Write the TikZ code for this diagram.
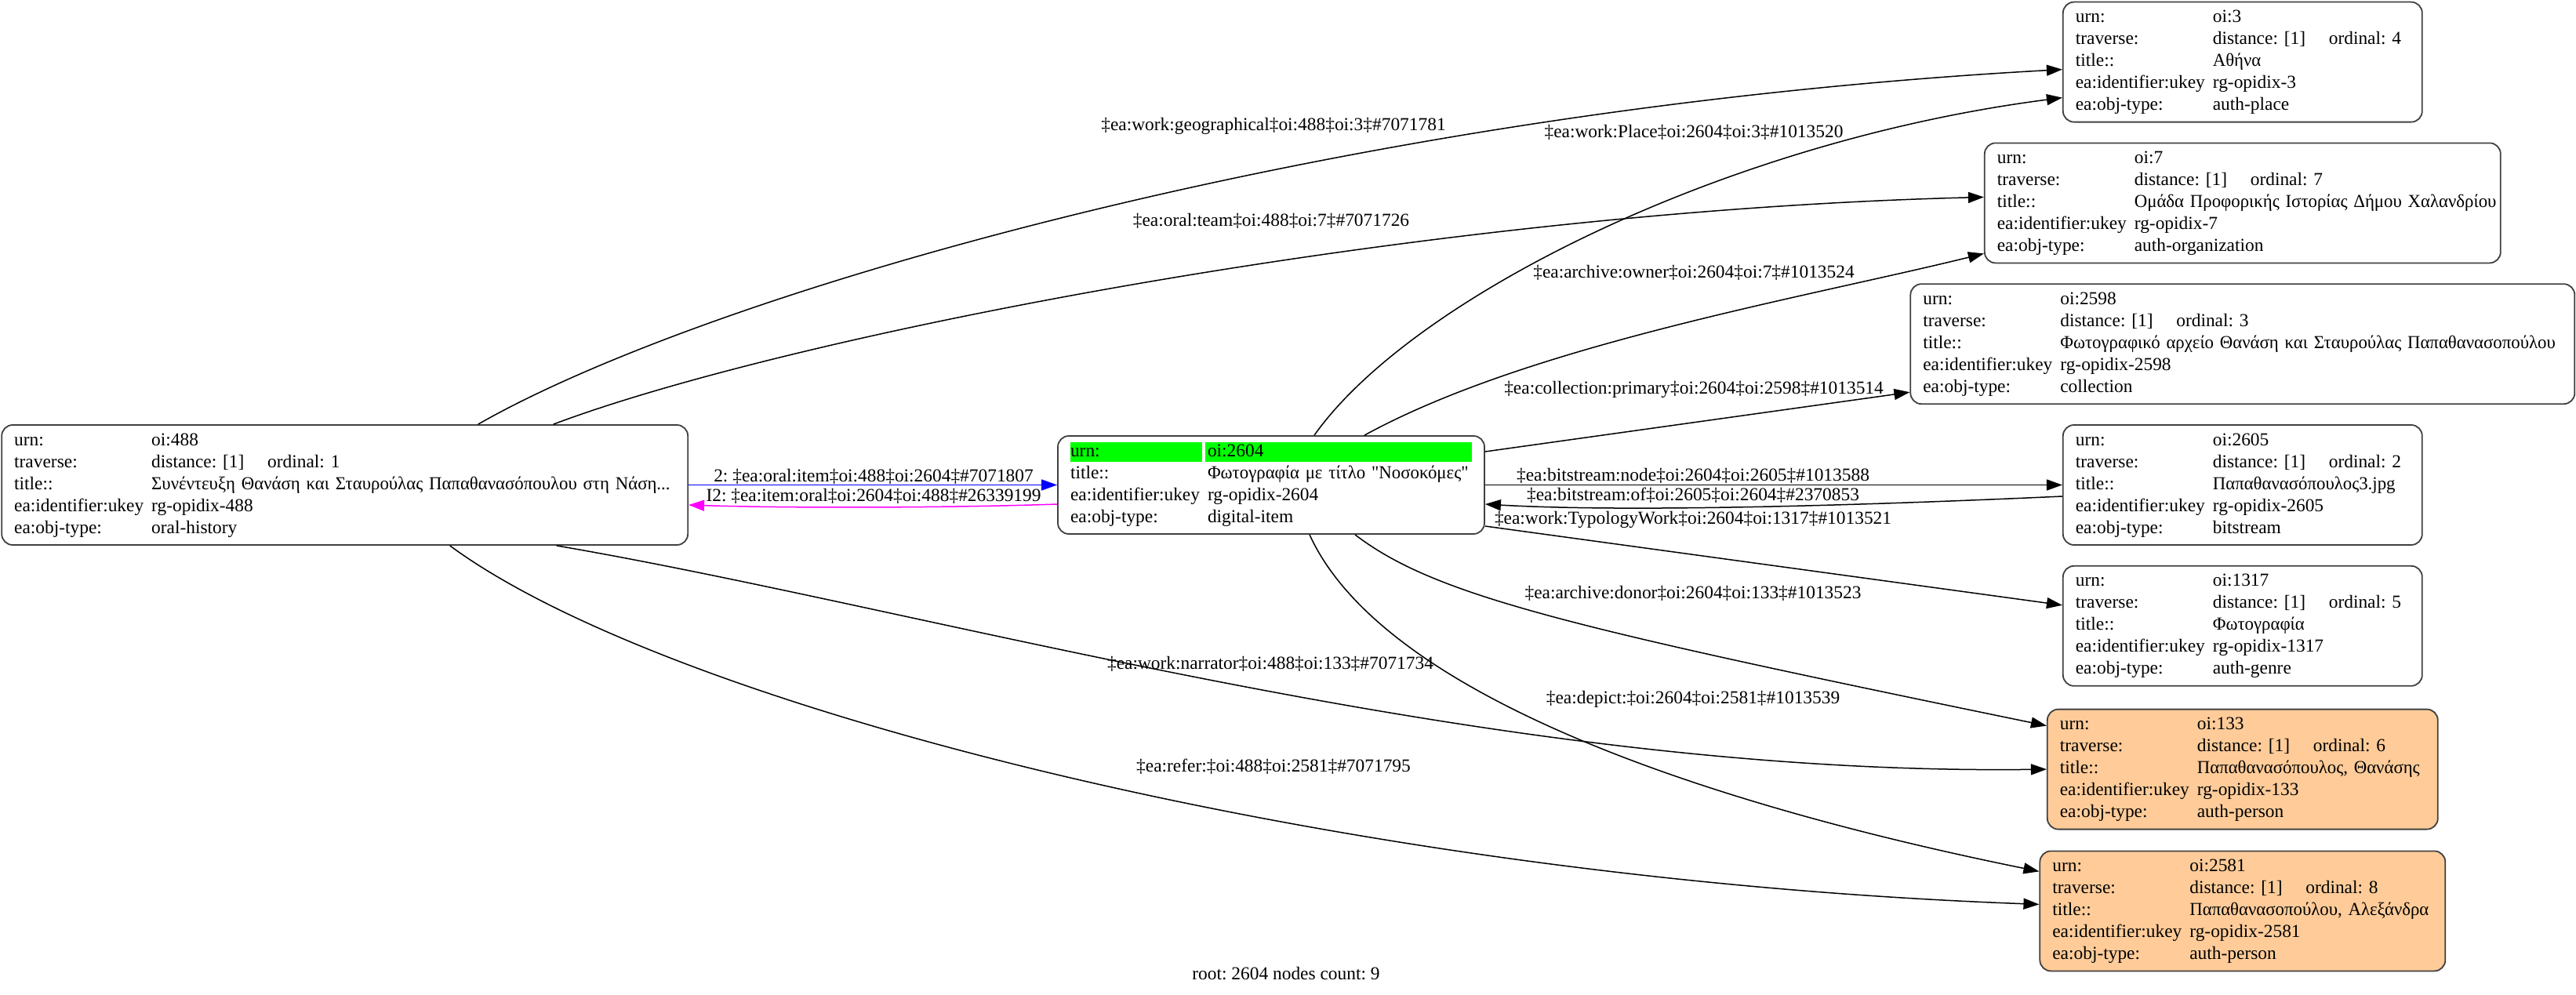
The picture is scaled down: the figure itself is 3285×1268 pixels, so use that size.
\documentclass[tikz,border=0pt]{standalone}
\usepackage{fontspec}
\setmainfont{Liberation Serif}
\newfontfamily\greekfont[FakeStretch=0.975]{Liberation Serif}
\usepackage{xcolor}
\usetikzlibrary{positioning,arrows.meta}
\definecolor{rootgreen}{RGB}{0,255,0}
\definecolor{personfill}{RGB}{255,204,153}
\definecolor{linkblue}{RGB}{0,0,255}
\definecolor{linkmagenta}{RGB}{255,0,255}
\newcommand\EAtable[5]{%
  \begin{tabular}{@{}p{87.5pt}@{}l@{}}
    urn: & #1\\
    traverse: & \makebox[74pt][l]{distance: [1]}ordinal: #2\\
    title:: & {\greekfont #3}\\
    ea:identifier:ukey & #4\\
    ea:obj-type: & #5
  \end{tabular}}
\newcommand\EAgreen[2]{%
  \colorbox{rootgreen}{\rule[-3.45pt]{0pt}{12.5pt}\makebox[#1][l]{#2}}}
\tikzset{
  eabox/.style={draw=black!75, line width=0.9pt, rounded corners=7pt,
    inner xsep=8pt, inner ysep=3.25pt, align=left},
  eaperson/.style={eabox, fill=personfill},
  ealink/.style={-{Triangle[length=10pt,width=7pt]}, line width=0.75pt},
  ealabel/.style={inner sep=0pt}
}
\frenchspacing
\begin{document}
\begin{tikzpicture}[x=0.5pt, y=-0.5pt, font=\fontsize{11.7}{14}\selectfont]
\useasboundingbox (0,0) rectangle (3285,1268);
\fboxsep=0pt

\node[eabox, text width=256pt] (n2604) at (1621,618.5) {%
  \begin{tabular}{@{}p{87.5pt}@{}l@{}}
    \EAgreen{84pt}{urn:} & \hspace*{-1.5pt}\EAgreen{170pt}{\hspace{1.5pt}oi:2604}\\
    title:: & {\greekfont Φωτογραφία με τίτλο "Νοσοκόμες"}\\
    ea:identifier:ukey & rg-opidix-2604\\
    ea:obj-type: & digital-item
  \end{tabular}};
\node[eabox, text width=421.5pt, left=235pt of n2604] (n488)
  {\EAtable{oi:488}{1}{Συνέντευξη Θανάση και Σταυρούλας Παπαθανασόπουλου στη Νάση...}{rg-opidix-488}{oral-history}};
\node[eabox, text width=213pt, right=368pt of n2604] (n2605)
  {\EAtable{oi:2605}{2}{Παπαθανασόπουλος3.jpg}{rg-opidix-2605}{bitstream}};
\node[eabox, text width=407.5pt, above=12.5pt of n2605] (n2598)
  {\EAtable{oi:2598}{3}{Φωτογραφικό αρχείο Θανάση και Σταυρούλας Παπαθανασοπούλου}{rg-opidix-2598}{collection}};
\node[eabox, text width=313pt, above=12.5pt of n2598] (n7)
  {\EAtable{oi:7}{7}{Ομάδα Προφορικής Ιστορίας Δήμου Χαλανδρίου}{rg-opidix-7}{auth-organization}};
\node[eabox, text width=213pt, above=12.5pt of n7] (n3)
  {\EAtable{oi:3}{4}{Αθήνα}{rg-opidix-3}{auth-place}};
\node[eabox, text width=213pt, below=12.5pt of n2605] (n1317)
  {\EAtable{oi:1317}{5}{Φωτογραφία}{rg-opidix-1317}{auth-genre}};
\node[eaperson, text width=233pt, below=14pt of n1317] (n133)
  {\EAtable{oi:133}{6}{Παπαθανασόπουλος, Θανάσης}{rg-opidix-133}{auth-person}};
\node[eaperson, text width=242.5pt, below=13pt of n133] (n2581)
  {\EAtable{oi:2581}{8}{Παπαθανασοπούλου, Αλεξάνδρα}{rg-opidix-2581}{auth-person}};

% links from oi:488
\draw[ealink] ([xshift=85pt]n488.north) .. controls (900,375) and (1700,140) .. ([yshift=-4.75pt]n3.west);
\draw[ealink] ([xshift=133pt]n488.north) .. controls (1000,430) and (1800,270) .. ([yshift=3.75pt]n7.west);
\draw[ealink] ([xshift=135pt]n488.south) .. controls (1200,780) and (1900,990) .. (n133.west);
\draw[ealink] ([xshift=67pt]n488.south) .. controls (850,900) and (1700,1120) .. ([yshift=4.25pt]n2581.west);
\draw[ealink, linkblue] (n488.east) -- (n2604.west);
\draw[ealink, linkmagenta] ([yshift=-12.25pt]n2604.west) .. controls (1200,648) and (1000,648) .. ([yshift=-12.75pt]n488.east);

% links from oi:2604
\draw[ealink] ([xshift=27.5pt]n2604.north) .. controls (1800,380) and (2200,180) .. ([yshift=-22.75pt]n3.west);
\draw[ealink] ([xshift=59.5pt]n2604.north) .. controls (1950,440) and (2300,380) .. ([yshift=-32.25pt]n7.west);
\draw[ealink] ([yshift=21.25pt]n2604.east) -- ([yshift=-30.75pt]n2598.west);
\draw[ealink] (n2604.east) -- (n2604.east -| n2605.west);
\draw[ealink] ([yshift=-7.25pt]n2605.west) .. controls (2300,648) and (2050,652) .. ([yshift=-12.25pt]n2604.east);
\draw[ealink] ([yshift=-26.25pt]n2604.east) -- ([yshift=13.25pt]n1317.west);
\draw[ealink] ([xshift=53.5pt]n2604.south) .. controls (1830,760) and (2000,800) .. ([yshift=27.75pt]n133.west);
\draw[ealink] ([xshift=24.5pt]n2604.south) .. controls (1760,880) and (2150,1020) .. ([yshift=25.25pt]n2581.west);

\node[ealabel] (lgeo) at (1624,161) {‡ea:work:geographical‡oi:488‡oi:3‡\#7071781};
\node[ealabel] (lteam) at (1621,282) {‡ea:oral:team‡oi:488‡oi:7‡\#7071726};
\node[ealabel] (lnarr) at (1620,847) {‡ea:work:narrator‡oi:488‡oi:133‡\#7071734};
\node[ealabel] (lrefer) at (1624,978) {‡ea:refer:‡oi:488‡oi:2581‡\#7071795};
\node[ealabel] (litem) at (1114,608) {2: ‡ea:oral:item‡oi:488‡oi:2604‡\#7071807};
\node[ealabel] (loral) at (1114,633) {I2: ‡ea:item:oral‡oi:2604‡oi:488‡\#26339199};
\node[ealabel] (lplace) at (2160,169) {‡ea:work:Place‡oi:2604‡oi:3‡\#1013520};
\node[ealabel] (lowner) at (2160,348) {‡ea:archive:owner‡oi:2604‡oi:7‡\#1013524};
\node[ealabel] (lcoll) at (2160,497) {‡ea:collection:primary‡oi:2604‡oi:2598‡\#1013514};
\node[ealabel] (lbsnode) at (2159,607) {‡ea:bitstream:node‡oi:2604‡oi:2605‡\#1013588};
\node[ealabel] (lbsof) at (2159,632) {‡ea:bitstream:of‡oi:2605‡oi:2604‡\#2370853};
\node[ealabel] (ltypo) at (2159,663) {‡ea:work:TypologyWork‡oi:2604‡oi:1317‡\#1013521};
\node[ealabel] (ldonor) at (2159,757) {‡ea:archive:donor‡oi:2604‡oi:133‡\#1013523};
\node[ealabel] (ldepict) at (2159,892) {‡ea:depict:‡oi:2604‡oi:2581‡\#1013539};
\node[ealabel] (rootinfo) at (1640,1242) {root: 2604 nodes count: 9};
\end{tikzpicture}
\end{document}
